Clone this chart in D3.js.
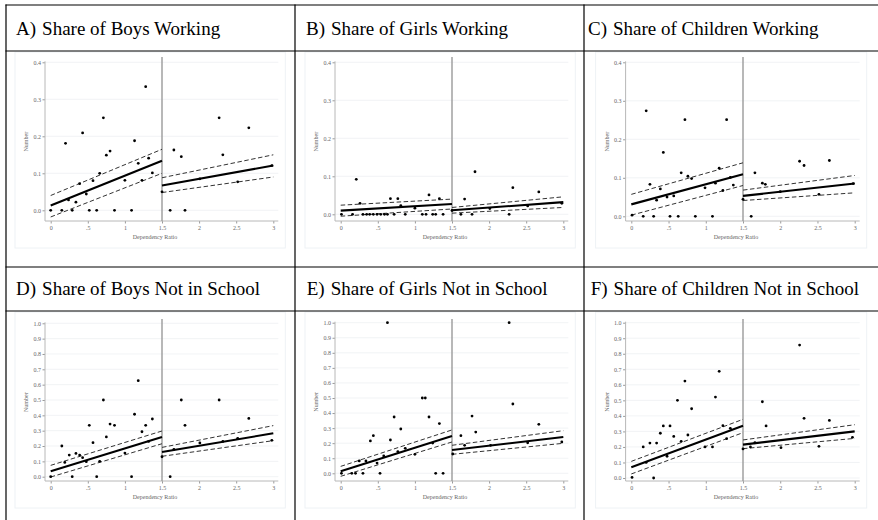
<!DOCTYPE html>
<html>
<head>
<meta charset="utf-8">
<script src="https://cdnjs.cloudflare.com/ajax/libs/d3/7.8.5/d3.min.js"></script>
<style>
  body { margin: 0; background: #fff; }
  svg { display: block; }
  text { font-family: "Times New Roman", "Liberation Serif", serif; }
</style>
</head>
<body>
<div id="chart"></div>
<script>
(function () {
  const width = 878;
  const height = 520;

  const panelLabels = ["A)", "B)", "C)", "D)", "E)", "F)"];
  const panelTitles = [
    "Share of Boys Working", "Share of Girls Working", "Share of Children Working",
    "Share of Boys Not in School", "Share of Girls Not in School", "Share of Children Not in School"
  ];

  const xTicks = [0, 0.5, 1, 1.5, 2, 2.5, 3];
  const xTickLabels = ["0", ".5", "1", "1.5", "2", "2.5", "3"];
  const yTicksWork = [0, 0.1, 0.2, 0.3, 0.4];
  const yTicksSchool = [0, 0.1, 0.2, 0.3, 0.4, 0.5, 0.6, 0.7, 0.8, 0.9, 1.0];
  const cutoff = 1.5;
  const xLabel = "Dependency Ratio";
  const yLabel = "Number";

  // scatter points [dependency ratio, share]
  const boysWork = [
    [0, 0], [0.15, 0], [0.2, 0.181], [0.24, 0.028], [0.29, 0], [0.34, 0.022], [0.39, 0.072],
    [0.43, 0.209], [0.48, 0.044], [0.52, 0], [0.57, 0.08], [0.62, 0], [0.66, 0.1], [0.71, 0.25],
    [0.75, 0.149], [0.8, 0.16], [0.86, 0], [1.0, 0.081], [1.09, 0], [1.13, 0.188], [1.18, 0.127],
    [1.23, 0.081], [1.28, 0.334], [1.32, 0.141], [1.37, 0.101], [1.5, 0.05], [1.61, 0],
    [1.66, 0.163], [1.76, 0.145], [1.81, 0], [2.01, 0.085], [2.27, 0.25], [2.32, 0.15],
    [2.52, 0.077], [2.67, 0.223], [2.98, 0.121]
  ];
  const girlsWork = [
    [0.01, 0], [0.16, 0], [0.21, 0.092], [0.26, 0.029], [0.3, 0], [0.35, 0], [0.39, 0], [0.44, 0],
    [0.49, 0], [0.54, 0], [0.59, 0], [0.63, 0], [0.67, 0.041], [0.72, 0], [0.77, 0.041],
    [0.81, 0.023], [0.87, 0], [1.0, 0.016], [1.1, 0], [1.15, 0], [1.19, 0.051], [1.24, 0],
    [1.28, 0], [1.33, 0.041], [1.38, 0], [1.5, 0.01], [1.62, 0], [1.67, 0.04], [1.77, 0],
    [1.81, 0.112], [2.01, 0.015], [2.27, 0], [2.32, 0.07], [2.52, 0.022], [2.67, 0.059],
    [2.98, 0.029]
  ];
  const childWork = [
    [0.01, 0.003], [0.16, 0], [0.2, 0.274], [0.25, 0.083], [0.3, 0], [0.34, 0.042], [0.39, 0.071],
    [0.43, 0.166], [0.48, 0.05], [0.52, 0], [0.57, 0.053], [0.63, 0], [0.67, 0.113], [0.72, 0.251],
    [0.76, 0.104], [0.81, 0.098], [0.86, 0], [0.99, 0.074], [1.09, 0], [1.13, 0.086],
    [1.18, 0.125], [1.23, 0.067], [1.28, 0.251], [1.33, 0.101], [1.37, 0.081], [1.5, 0.044],
    [1.61, 0], [1.66, 0.113], [1.76, 0.086], [1.8, 0.083], [2.0, 0.064], [2.26, 0.143],
    [2.32, 0.132], [2.52, 0.057], [2.66, 0.145], [2.98, 0.085]
  ];
  const boysSchool = [
    [0, 0], [0.15, 0.2], [0.19, 0.093], [0.25, 0.141], [0.29, 0], [0.34, 0.152], [0.39, 0.141],
    [0.43, 0.124], [0.48, 0.098], [0.52, 0.335], [0.57, 0.222], [0.62, 0], [0.66, 0.1], [0.71, 0.5],
    [0.75, 0.259], [0.8, 0.343], [0.86, 0.335], [1.0, 0.154], [1.09, 0], [1.13, 0.407],
    [1.18, 0.626], [1.23, 0.293], [1.28, 0.335], [1.32, 0.23], [1.37, 0.376], [1.5, 0.13],
    [1.61, 0], [1.66, 0.178], [1.76, 0.5], [1.81, 0.335], [2.01, 0.22], [2.27, 0.5], [2.32, 0.23],
    [2.52, 0.25], [2.67, 0.38], [2.98, 0.237]
  ];
  const girlsSchool = [
    [0.01, 0], [0.15, 0], [0.2, 0], [0.25, 0.082], [0.3, 0], [0.34, 0.082], [0.4, 0.215],
    [0.44, 0.25], [0.49, 0.068], [0.53, 0], [0.58, 0.115], [0.63, 1.0], [0.67, 0.221],
    [0.72, 0.374], [0.77, 0.144], [0.81, 0.294], [0.87, 0.166], [1.0, 0.126], [1.1, 0.5],
    [1.14, 0.5], [1.19, 0.374], [1.24, 0.201], [1.28, 0], [1.33, 0.33], [1.38, 0], [1.51, 0.128],
    [1.62, 0.25], [1.67, 0.186], [1.77, 0.38], [1.82, 0.274], [2.02, 0.186], [2.27, 1.0],
    [2.32, 0.46], [2.52, 0.203], [2.67, 0.325], [2.98, 0.208]
  ];
  const childSchool = [
    [0.01, 0.004], [0.16, 0.2], [0.2, 0.1], [0.25, 0.225], [0.3, 0], [0.34, 0.225], [0.39, 0.288],
    [0.43, 0.335], [0.48, 0.14], [0.52, 0.335], [0.57, 0.268], [0.62, 0.5], [0.67, 0.236],
    [0.72, 0.624], [0.76, 0.277], [0.81, 0.446], [0.99, 0.2], [1.09, 0.2], [1.13, 0.521],
    [1.18, 0.687], [1.23, 0.337], [1.28, 0.253], [1.33, 0.32], [1.5, 0.187], [1.6, 0.2],
    [1.66, 0.227], [1.76, 0.491], [1.81, 0.335], [2.01, 0.195], [2.26, 0.856], [2.32, 0.384],
    [2.52, 0.204], [2.66, 0.371], [2.97, 0.262]
  ];

  // fitted lines with confidence bands, per side of the cutoff: [x, fit, lower, upper]
  const fitBoysWork = [
    [[0, 0.013, -0.018, 0.040], [1.5, 0.134, 0.100, 0.165]],
    [[1.5, 0.067, 0.048, 0.088], [3, 0.121, 0.090, 0.150]]
  ];
  const fitGirlsWork = [
    [[0, 0.0096, -0.005, 0.024], [1.5, 0.027, 0.014, 0.040]],
    [[1.5, 0.0105, 0.003, 0.018], [3, 0.032, 0.018, 0.046]]
  ];
  const fitChildWork = [
    [[0, 0.031, 0.003, 0.057], [1.5, 0.109, 0.080, 0.139]],
    [[1.5, 0.053, 0.041, 0.068], [3, 0.085, 0.061, 0.106]]
  ];
  const fitBoysSchool = [
    [[0, 0.035, -0.002, 0.074], [1.5, 0.259, 0.215, 0.298]],
    [[1.5, 0.161, 0.133, 0.191], [3, 0.283, 0.235, 0.333]]
  ];
  const fitGirlsSchool = [
    [[0, 0.013, -0.020, 0.046], [1.5, 0.248, 0.208, 0.288]],
    [[1.5, 0.155, 0.126, 0.186], [3, 0.241, 0.199, 0.283]]
  ];
  const fitChildSchool = [
    [[0, 0.069, 0.026, 0.107], [1.5, 0.337, 0.292, 0.378]],
    [[1.5, 0.215, 0.189, 0.245], [3, 0.300, 0.255, 0.343]]
  ];

  const panelPoints = [boysWork, girlsWork, childWork, boysSchool, girlsSchool, childSchool];
  const panelFits = [fitBoysWork, fitGirlsWork, fitChildWork, fitBoysSchool, fitGirlsSchool, fitChildSchool];

  // layout of the table and plots
  const cols = [
    {left: 6, x0: 50.7, x3: 273.3},
    {left: 295, x0: 340.7, x3: 563.3},
    {left: 584, x0: 631.3, x3: 854.7}
  ];
  const rows = [
    {top: 5, plotTop: 51, bottom: 267, baseline: 35, vTop: 6, yTicks: yTicksWork},
    {top: 267, plotTop: 311, bottom: 520, baseline: 295, vTop: 8, yTicks: yTicksSchool}
  ];
  const titleIndent = [10, 11, 4, 10, 11.7, 6.7];
  const zeroOffset = [159.3, 163.3, 165.3, 165.7, 162.3, 167];
  const topOffset = [11.3, 11.3, 11.3, 12.3, 11.7, 11.7];

  const svg = d3.select("#chart").append("svg")
    .attr("width", width)
    .attr("height", height);

  const grey = "#666";

  panelTitles.forEach(function (title, i) {
    const col = cols[i % 3];
    const row = rows[Math.floor(i / 3)];
    const g = svg.append("g");
    const yTicks = row.yTicks;

    const x = d3.scaleLinear().domain([0, 3]).range([col.x0, col.x3]);
    const y = d3.scaleLinear()
      .domain([0, yTicks[yTicks.length - 1]])
      .range([row.plotTop + zeroOffset[i], row.plotTop + topOffset[i]]);

    const axisX = col.x0 - 5.7;
    const axisY = row.plotTop + 170;
    const rightX = col.x3 + 5;

    // graph region
    g.append("rect")
      .attr("x", axisX - 30)
      .attr("y", row.plotTop + 1)
      .attr("width", col.x3 + 12 - (axisX - 30))
      .attr("height", 196)
      .attr("fill", "none")
      .attr("stroke", "#eef2f5")
      .attr("stroke-width", 1);

    // title
    const t = g.append("text")
      .attr("x", col.left + titleIndent[i])
      .attr("y", row.baseline)
      .attr("font-size", 19)
      .attr("fill", "#000");
    t.append("tspan").text(panelLabels[i]);
    t.append("tspan").attr("dx", 6).text(title);

    // gridlines
    g.selectAll(".grid").data(yTicks).join("line")
      .attr("x1", axisX)
      .attr("x2", rightX)
      .attr("y1", d => y(d))
      .attr("y2", d => y(d))
      .attr("stroke", "#edf0f2")
      .attr("stroke-width", 0.8);

    // y axis
    const yAxis = g.append("g")
      .attr("transform", "translate(" + axisX + ",0)")
      .call(d3.axisLeft(y).tickValues(yTicks).tickFormat(d3.format(".1f")).tickSize(2.5).tickPadding(1.5));
    yAxis.select(".domain").remove();
    yAxis.append("line")
      .attr("x1", 0).attr("x2", 0)
      .attr("y1", y(yTicks[yTicks.length - 1]) - 1)
      .attr("y2", axisY)
      .attr("stroke", "#b8b8b8");

    // x axis
    const xAxis = g.append("g")
      .attr("transform", "translate(0," + axisY + ")")
      .call(d3.axisBottom(x).tickValues(xTicks).tickFormat((d, k) => xTickLabels[k]).tickSize(2.5).tickPadding(2.5));
    xAxis.select(".domain").remove();
    xAxis.append("line")
      .attr("x1", axisX).attr("x2", rightX)
      .attr("y1", 0).attr("y2", 0)
      .attr("stroke", "#b8b8b8");

    [yAxis, xAxis].forEach(function (a) {
      a.selectAll(".tick line").attr("stroke", "#9a9a9a");
      a.selectAll(".tick text")
        .attr("fill", grey)
        .attr("font-size", 6)
        .attr("font-family", "'Times New Roman', 'Liberation Serif', serif");
    });

    g.append("text")
      .attr("x", x(cutoff) - 7)
      .attr("y", row.plotTop + 187.5)
      .attr("text-anchor", "middle")
      .attr("font-size", 6)
      .attr("fill", grey)
      .text(xLabel);

    g.append("text")
      .attr("transform", "translate(" + (axisX - 17) + "," + ((y(yTicks[yTicks.length - 1]) + axisY) / 2) + ") rotate(-90)")
      .attr("text-anchor", "middle")
      .attr("font-size", 6)
      .attr("fill", grey)
      .text(yLabel);

    // cutoff line
    g.append("line")
      .attr("x1", x(cutoff)).attr("x2", x(cutoff))
      .attr("y1", row.plotTop + row.vTop)
      .attr("y2", axisY)
      .attr("stroke", "#9a9a9a")
      .attr("stroke-width", 1.4);

    // fitted lines and confidence bands
    panelFits[i].forEach(function (seg) {
      [2, 3].forEach(function (k) {
        g.append("path")
          .attr("d", d3.line().x(d => x(d[0])).y(d => y(d[k]))(seg))
          .attr("fill", "none")
          .attr("stroke", "#333")
          .attr("stroke-width", 1)
          .attr("stroke-dasharray", "4.5,2.5");
      });
      g.append("path")
        .attr("d", d3.line().x(d => x(d[0])).y(d => y(d[1]))(seg))
        .attr("fill", "none")
        .attr("stroke", "#000")
        .attr("stroke-width", 2.1);
    });

    // points
    g.selectAll(".pt").data(panelPoints[i]).join("circle")
      .attr("cx", d => x(d[0]))
      .attr("cy", d => y(d[1]))
      .attr("r", 1.4)
      .attr("fill", "#000");
  });

  // table rules
  const hLines = [5, 51, 267, 311];
  svg.selectAll(".hrule").data(hLines).join("line")
    .attr("x1", 5.5).attr("x2", width)
    .attr("y1", d => d).attr("y2", d => d)
    .attr("stroke", "#000")
    .attr("stroke-width", 1.2);
  const vLines = [6, 295, 584];
  svg.selectAll(".vrule").data(vLines).join("line")
    .attr("x1", d => d).attr("x2", d => d)
    .attr("y1", 4.5).attr("y2", height)
    .attr("stroke", "#000")
    .attr("stroke-width", 1.2);
})();
</script>
</body>
</html>
